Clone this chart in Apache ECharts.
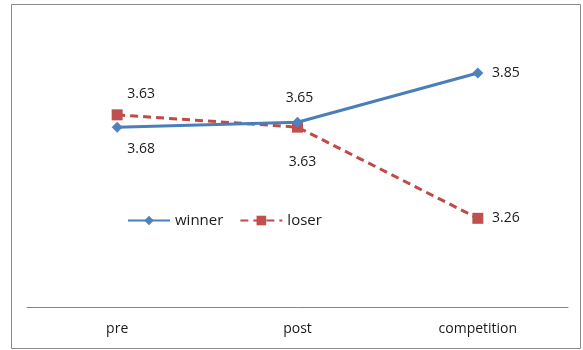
<!DOCTYPE html>
<html>
<head>
<meta charset="utf-8">
<script src="https://cdn.jsdelivr.net/npm/echarts@6/dist/echarts.min.js"></script>
<style>
  html, body { margin: 0; padding: 0; background: #fff; }
  #chart { width: 583px; height: 350px; }
</style>
</head>
<body>
<div id="chart"></div>
<script>
// Phases and mean scores per group
const phases = ['pre', 'post', 'competition'];
const winner = [3.63, 3.65, 3.85];
const loser = [3.68, 3.63, 3.26];

// Label placement around each point (offset from marker centre, px)
const winnerLabelOffsets = [[24, -33], [2, -24], [28, 0]];
const loserLabelOffsets = [[24, 34], [5, 35], [28, 0]];

const labelFont = { fontFamily: 'Open Sans', fontSize: 14, color: '#1a1a1a' };

function seriesData(values, offsets) {
  return values.map((v, i) => ({
    value: v,
    label: {
      show: true,
      position: 'inside',
      offset: offsets[i],
      formatter: (p) => p.value.toFixed(2),
      ...labelFont
    }
  }));
}

const chart = echarts.init(document.getElementById('chart'), null, { renderer: 'canvas' });

chart.setOption({
  animation: false,
  backgroundColor: '#fff',
  graphic: [{
    type: 'rect',
    shape: { x: 11.5, y: 4.5, width: 569, height: 344 },
    style: { fill: 'none', stroke: '#8a8a8a', lineWidth: 1 },
    silent: true,
    z: -1
  }],
  grid: { left: 27, right: 15, top: 36, bottom: 43 },
  legend: {
    left: 122,
    top: 208,
    itemWidth: 42,
    itemHeight: 12,
    itemGap: 16,
    textStyle: { fontFamily: 'Open Sans', fontSize: 15, color: '#1a1a1a' },
    data: ['winner', 'loser']
  },
  xAxis: {
    type: 'category',
    data: phases,
    boundaryGap: true,
    axisLine: { lineStyle: { color: '#868686', width: 1 } },
    axisTick: { show: false },
    axisLabel: { margin: 15, fontFamily: 'Open Sans', fontSize: 14, color: '#1a1a1a' },
    splitLine: { show: false }
  },
  yAxis: {
    type: 'value',
    min: 2.9,
    max: 4.0,
    show: false,
    splitLine: { show: false }
  },
  series: [
    {
      name: 'winner',
      type: 'line',
      data: seriesData(winner, winnerLabelOffsets),
      symbol: 'diamond',
      symbolSize: 11,
      itemStyle: { color: '#4f81bd' },
      lineStyle: { color: '#4a7ebb', width: 3 },
      z: 3
    },
    {
      name: 'loser',
      type: 'line',
      data: seriesData(loser, loserLabelOffsets),
      symbol: 'rect',
      symbolSize: 11,
      itemStyle: { color: '#c0504d' },
      lineStyle: { color: '#be4b48', width: 3, type: [8, 5] },
      z: 2
    }
  ]
});
</script>
</body>
</html>
